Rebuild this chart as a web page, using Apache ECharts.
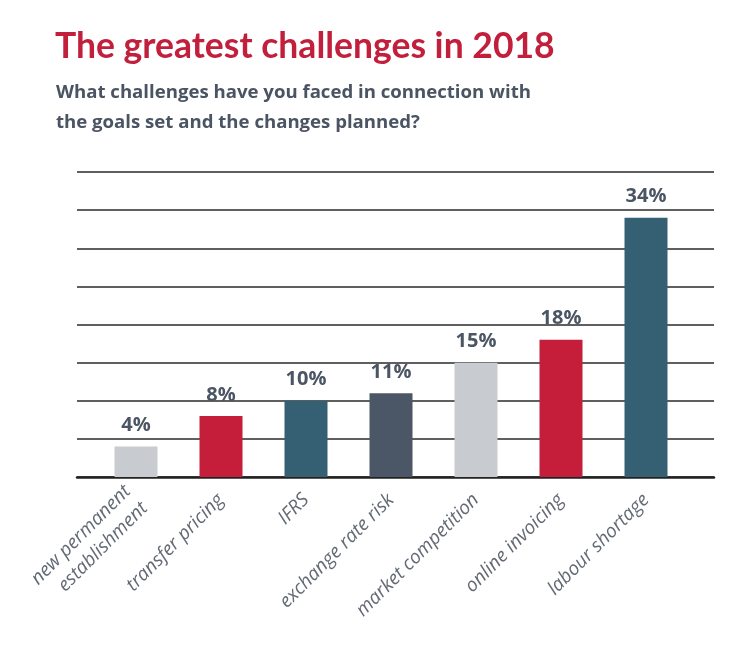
<!DOCTYPE html>
<html>
<head>
<meta charset="utf-8">
<script src="https://cdn.jsdelivr.net/npm/echarts@6/dist/echarts.min.js"></script>
<style>
  html, body { margin: 0; padding: 0; background: #fff; }
  #chart01 { width: 751px; height: 669px; }
</style>
</head>
<body>
<div id="chart01"></div>
<script>
var categories = ['new permanent\nestablishment', 'transfer pricing', 'IFRS', 'exchange rate risk',
    'market competition', 'online invoicing', 'labour shortage'];
var values = [4, 8, 10, 11, 15, 18, 34];
var barColors = ['#c8cbd0', '#c41e3a', '#355f72', '#4b5766', '#c8cbd0', '#c41e3a', '#355f72'];

var myChart = echarts.init(document.getElementById('chart01'));
option = {
    title: [{
        text: 'The greatest challenges in 2018',
        left: 55,
        top: 29,
        padding: 0,
        textStyle: { fontFamily: 'Lato', fontSize: 35.5, fontWeight: 'bold', color: '#c21f3c' }
    }, {
        text: 'What challenges have you faced in connection with\nthe goals set and the changes planned?',
        left: 56,
        top: 78,
        padding: 0,
        textStyle: { fontFamily: 'Open Sans', fontSize: 18.6, fontWeight: 'bold', color: '#4a5462', lineHeight: 29.5 }
    }],
    grid: [
        { left: 93.5, right: 62.5, top: 172, bottom: 192 },
        { left: 77, right: 37, top: 172, bottom: 192 }
    ],
    xAxis: [{
        type: 'category',
        gridIndex: 0,
        data: categories,
        axisLine: { show: false },
        axisTick: { show: false },
        axisLabel: {
            interval: 0,
            rotate: 45,
            margin: 20,
            fontFamily: 'Open Sans',
            fontStyle: 'italic',
            fontWeight: 'normal',
            fontSize: 19,
            lineHeight: 24,
            color: '#646a74'
        }
    }, {
        type: 'value',
        gridIndex: 1,
        min: 0,
        max: 1,
        axisLine: { show: true, lineStyle: { color: '#222', width: 2.5 } },
        axisTick: { show: false },
        axisLabel: { show: false },
        splitLine: { show: false }
    }],
    yAxis: [{
        type: 'value',
        gridIndex: 0,
        min: 0,
        max: 40,
        interval: 5,
        show: false
    }, {
        type: 'value',
        gridIndex: 1,
        min: 0,
        max: 40,
        interval: 5,
        axisLine: { show: false },
        axisTick: { show: false },
        axisLabel: { show: false },
        splitLine: { lineStyle: { color: '#2a2a2a', width: 1.6 } }
    }],
    series: [{
        type: 'bar',
        xAxisIndex: 0,
        yAxisIndex: 0,
        barWidth: 43,
        z: 3,
        data: values.map(function (v, i) {
            return { value: v, itemStyle: { color: barColors[i] } };
        }),
        label: {
            show: true,
            position: 'top',
            distance: 11,
            formatter: '{c}%',
            fontFamily: 'Open Sans',
            fontSize: 20,
            fontWeight: 'bold',
            color: '#4b5563'
        }
    }]
};
if (option && typeof option === "object") {
    myChart.setOption(option, true);
}
</script>
</body>
</html>
